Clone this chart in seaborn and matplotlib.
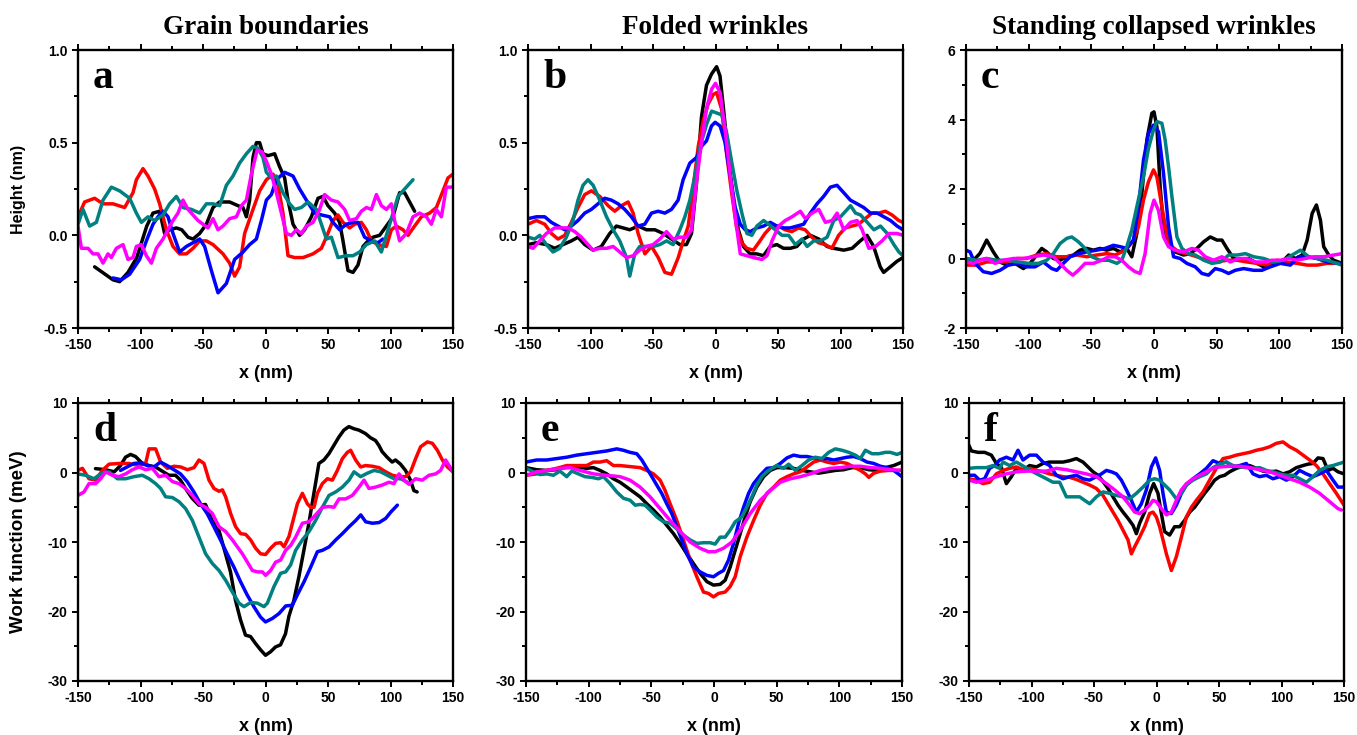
import matplotlib
matplotlib.use("Agg")
import matplotlib.pyplot as plt
import pandas as pd
import seaborn as sns
from matplotlib.ticker import MultipleLocator, FormatStrFormatter

# ---------------- data (x in nm, y values) ----------------
SERIES = ["black", "red", "blue", "teal", "magenta"]
PALETTE = {"black": "#000000", "red": "#FF0000", "blue": "#0000FF",
           "teal": "#008080", "magenta": "#FF00FF"}

TITLES = ["Grain boundaries", "Folded wrinkles", "Standing collapsed wrinkles"]
LETTERS = ["a", "b", "c", "d", "e", "f"]

# Panel a : height (nm), grain boundaries
A_BLACK = [(-136.7,-0.17),(-122,-0.24),(-116.7,-0.25),(-110,-0.20),(-103,-0.12),(-95,0.05),(-90,0.12),(-84.7,0.13),(-80.7,0.01),(-76.7,0.03),(-71.3,0.04),(-67,0.03),(-62,-0.01),(-58,-0.02),(-52.7,0.01),(-47.3,0.06),(-42,0.15),(-36.7,0.18),(-28.7,0.18),(-22,0.16),(-18,0.15),(-15.3,0.10),(-12.7,0.19),(-10,0.42),(-7.3,0.50),(-4.7,0.50),(-2,0.44),(2,0.43),(7.3,0.44),(11.3,0.37),(15.3,0.31),(18,0.19),(22,0.06),(27.3,0.00),(31.3,0.03),(36.7,0.10),(42,0.20),(46,0.21),(50,0.16),(55.3,0.12),(59.3,0.07),(62,-0.03),(66,-0.19),(70,-0.20),(74,-0.16),(78,-0.06),(82,-0.03),(86,-0.01),(91.3,0.00),(96.7,0.05),(102,0.10),(107.3,0.23),(111.3,0.23),(115.3,0.18),(119.3,0.13)]
A_RED = [(-150,0.10),(-144.7,0.18),(-136.7,0.20),(-130,0.17),(-122,0.17),(-112.7,0.15),(-106,0.23),(-103.3,0.30),(-98,0.36),(-94,0.32),(-88.7,0.25),(-84.7,0.17),(-79.3,0.03),(-74,-0.06),(-68.7,-0.10),(-63.3,-0.10),(-58,-0.07),(-52.7,-0.03),(-47.3,-0.03),(-42,-0.05),(-34,-0.10),(-28.7,-0.15),(-24.7,-0.22),(-20.7,-0.17),(-16.7,0.01),(-10,0.14),(-4.7,0.24),(0.7,0.30),(6,0.33),(10,0.27),(14,0.12),(18,-0.11),(23.3,-0.12),(30,-0.12),(38,-0.10),(44.7,-0.07),(48.7,-0.01),(54,0.08),(58,0.11),(62,0.07),(67.3,0.04),(71.3,0.06),(76.7,0.07),(80.7,0.03),(84.7,-0.03),(90,-0.05),(96.7,-0.06),(100.7,0.03),(104.7,0.05),(110,0.03),(114,0.00),(119.3,0.05),(124.7,0.10),(131.3,0.12),(136.7,0.15),(142,0.24),(146,0.31),(150,0.33)]
A_BLUE = [(-122,-0.23),(-115.3,-0.24),(-108.7,-0.21),(-100.7,-0.13),(-95.3,-0.03),(-90,0.06),(-86,0.10),(-82,0.13),(-78,0.10),(-74,0.01),(-68.7,-0.09),(-63.3,-0.06),(-58,-0.04),(-52.7,-0.02),(-48.7,-0.06),(-43.3,-0.19),(-38,-0.31),(-31.3,-0.26),(-24.7,-0.13),(-18,-0.09),(-12.7,-0.05),(-7.3,-0.02),(-3.3,0.08),(0.7,0.19),(4.7,0.22),(8.7,0.30),(15.3,0.34),(22,0.32),(27.3,0.25),(32.7,0.19),(39.3,0.12),(44.7,0.11),(51.3,0.10),(54,0.07),(59.3,0.03),(64.7,0.06),(70,0.07),(74,0.07),(79.3,-0.01),(84.7,-0.03),(90,-0.04),(94,-0.02)]
A_TEAL = [(-150,0.06),(-146,0.14),(-140.7,0.05),(-135.3,0.07),(-130,0.19),(-123.3,0.26),(-116.7,0.24),(-108.7,0.20),(-103.3,0.12),(-99.3,0.07),(-94,0.10),(-88.7,0.08),(-82,0.11),(-76.7,0.17),(-71.3,0.21),(-66,0.15),(-59.3,0.14),(-52.7,0.12),(-47.3,0.17),(-42,0.17),(-36.7,0.16),(-31.3,0.27),(-26,0.32),(-20.7,0.39),(-15.3,0.44),(-10,0.48),(-6,0.47),(-2,0.42),(0.7,0.34),(4.7,0.31),(8.7,0.32),(14,0.23),(19.3,0.17),(23.3,0.14),(28.7,0.15),(34,0.18),(40.7,0.14),(44.7,0.06),(48.7,-0.02),(52.7,-0.01),(58,-0.12),(64.7,-0.11),(70,-0.11),(75.3,-0.09),(80.7,-0.05),(87.3,-0.03),(92.7,-0.09),(96.7,0.00),(100.7,0.09),(106,0.21),(111.3,0.25),(118,0.30)]
A_MAGENTA = [(-150,0.05),(-147.3,-0.07),(-142,-0.07),(-138,-0.10),(-134,-0.10),(-130,-0.15),(-126,-0.10),(-123.3,-0.12),(-119.3,-0.07),(-114,-0.05),(-110,-0.13),(-106,-0.12),(-103.3,-0.06),(-99.3,-0.05),(-95.3,-0.11),(-91.3,-0.15),(-87.3,-0.07),(-82,-0.02),(-78,0.03),(-74,0.08),(-70,0.12),(-66,0.19),(-62,0.14),(-58,0.11),(-54,0.08),(-50,0.06),(-46,0.04),(-42,0.09),(-38,0.03),(-34,0.05),(-28.7,0.09),(-23.3,0.10),(-19.3,0.16),(-15.3,0.19),(-11.3,0.33),(-6.7,0.46),(-2.7,0.45),(0.7,0.40),(4.7,0.33),(8.7,0.23),(12.7,0.12),(16.7,0.01),(20.7,0.00),(24.7,0.03),(28.7,0.01),(32.7,0.05),(38,0.07),(43.3,0.14),(47.3,0.22),(52.7,0.19),(58,0.18),(63.3,0.14),(67.3,0.08),(72.7,0.09),(76.7,0.13),(80.7,0.15),(84.7,0.14),(88.7,0.22),(92.7,0.16),(96.7,0.14),(100.7,0.17),(103.3,0.08),(107.3,-0.03),(112.7,0.01),(118,0.10),(123.3,0.12),(128.7,0.10),(132.7,0.06),(136.7,0.14),(140.7,0.10),(144.7,0.26),(150,0.26)]

# Panel b : height (nm), folded wrinkles
B_BLACK = [(-150,-0.05),(-143.3,-0.04),(-135.3,-0.05),(-128.6,-0.07),(-122,-0.05),(-115.3,-0.03),(-110,-0.01),(-104.6,-0.05),(-97.9,-0.08),(-91.3,-0.06),(-84.6,0.01),(-79.3,0.05),(-73.9,0.04),(-68.6,0.03),(-61.9,0.05),(-55.2,0.03),(-48.5,0.03),(-41.9,0.01),(-35.2,-0.02),(-28.5,-0.05),(-23.2,-0.05),(-19.2,0.01),(-15.2,0.28),(-11.2,0.64),(-7.2,0.81),(-3.2,0.87),(0.9,0.91),(3.6,0.86),(6.3,0.69),(10.3,0.42),(14.3,0.19),(18.3,0.03),(22.3,-0.06),(27.7,-0.10),(33,-0.10),(38.4,-0.11),(43.7,-0.06),(49.1,-0.05),(54.4,-0.07),(59.8,-0.07),(65.1,-0.06),(70.5,-0.02),(75.9,0.00),(82.6,-0.02),(89.2,-0.06),(94.6,-0.07),(102.6,-0.08),(109.3,-0.07),(115.8,-0.03),(121.2,0.00),(126.5,-0.06),(131.8,-0.17),(134.5,-0.20),(139.9,-0.17),(145.2,-0.14),(150,-0.12)]
B_RED = [(-150,0.06),(-143.3,0.08),(-136.6,0.06),(-131.3,0.01),(-126,-0.02),(-120.6,0.00),(-115.3,0.07),(-110,0.15),(-104.6,0.22),(-99.3,0.24),(-92.6,0.21),(-85.9,0.16),(-80.6,0.13),(-75.2,0.16),(-69.9,0.18),(-65.9,0.12),(-61.9,0.01),(-56.5,-0.10),(-51.2,-0.06),(-45.8,-0.12),(-40.5,-0.20),(-35.2,-0.21),(-29.8,-0.12),(-25.8,-0.03),(-21.8,0.05),(-17.8,0.26),(-13.8,0.48),(-9.8,0.62),(-5.8,0.71),(-1.8,0.76),(0.9,0.77),(4.9,0.68),(8.9,0.44),(12.9,0.23),(16.9,0.04),(21,-0.04),(25,-0.07),(30.3,-0.08),(35.6,-0.03),(39.6,0.01),(45,0.05),(50.3,0.05),(55.7,0.03),(61,0.02),(66.4,0.04),(71.7,0.03),(77.1,-0.01),(82.4,-0.04),(87.8,-0.05),(93.1,-0.07),(98.5,0.00),(103.8,0.04),(109.2,0.05),(114.5,0.06),(119.8,0.09),(125.2,0.12),(130.5,0.12),(135.9,0.13),(141.2,0.11),(146.6,0.08),(150,0.07)]
B_BLUE = [(-150,0.09),(-143.3,0.10),(-136.6,0.10),(-131.3,0.07),(-126,0.05),(-120.6,0.03),(-115.3,0.05),(-110,0.08),(-104.6,0.12),(-99.3,0.14),(-94,0.17),(-88.6,0.20),(-83.3,0.19),(-77.9,0.17),(-72.6,0.14),(-67.3,0.10),(-61.9,0.05),(-56.6,0.06),(-51.2,0.12),(-45.9,0.13),(-40.5,0.12),(-35.2,0.14),(-29.9,0.19),(-25.9,0.30),(-20.5,0.39),(-15.2,0.42),(-11.2,0.48),(-7.2,0.51),(-3.2,0.59),(-0.3,0.61),(3.7,0.59),(7.7,0.50),(11.8,0.32),(15.8,0.15),(19.8,0.06),(23.8,0.03),(27.8,0.02),(33.1,0.04),(38.5,0.05),(43.8,0.07),(49.1,0.05),(54.5,0.04),(59.8,0.04),(65.2,0.05),(70.5,0.06),(75.9,0.12),(81.2,0.17),(86.5,0.21),(91.9,0.26),(97.2,0.27),(102.6,0.23),(107.9,0.19),(113.3,0.17),(118.6,0.15),(124,0.12),(129.3,0.12),(134.7,0.10),(140,0.08),(145.3,0.05),(150,0.03)]
B_TEAL = [(-150,-0.01),(-144.6,-0.02),(-140.6,0.00),(-135.3,-0.05),(-130,-0.09),(-124.6,-0.07),(-119.3,-0.01),(-114,0.08),(-110,0.19),(-106,0.27),(-102,0.30),(-97.9,0.27),(-92.6,0.19),(-87.2,0.10),(-81.9,0.03),(-76.6,-0.03),(-71.2,-0.12),(-68.6,-0.22),(-64.6,-0.10),(-60.6,-0.06),(-55.2,-0.06),(-49.9,-0.06),(-44.5,-0.05),(-39.2,-0.03),(-33.9,-0.05),(-28.5,0.03),(-24.5,0.10),(-20.5,0.19),(-16.5,0.32),(-12.3,0.48),(-7.1,0.60),(-3.1,0.67),(1,0.66),(5,0.65),(9,0.55),(13.1,0.39),(17.1,0.24),(21.1,0.12),(25.1,0.01),(29.1,0.00),(33.1,0.05),(38.5,0.08),(42.5,0.06),(47.8,0.03),(53.2,0.00),(58.5,0.00),(63.9,-0.05),(69.2,-0.02),(73.3,-0.06),(78.6,-0.03),(84,-0.03),(89.3,-0.01),(94.6,0.08),(100,0.10),(105.4,0.14),(108,0.16),(112,0.12),(116,0.11),(121.4,0.07),(126.7,0.03),(132,0.05),(137.4,0.01),(142.7,-0.05),(146.7,-0.09),(150,-0.11)]
B_MAGENTA = [(-150,-0.06),(-146,-0.07),(-140.6,-0.03),(-135.3,0.01),(-128.6,0.04),(-123.3,0.04),(-118,0.04),(-112.6,0.02),(-107.3,-0.01),(-102,-0.05),(-98,-0.08),(-92.6,-0.07),(-87.2,-0.07),(-81.9,-0.06),(-76.6,-0.09),(-71.2,-0.12),(-65.9,-0.11),(-60.6,-0.08),(-55.2,-0.06),(-49.9,-0.05),(-44.5,-0.02),(-39.2,0.02),(-33.9,-0.02),(-28.5,-0.01),(-23.2,-0.01),(-19.2,0.03),(-15,0.30),(-11,0.51),(-7,0.69),(-3,0.79),(0,0.82),(3.7,0.77),(7.7,0.57),(11.8,0.32),(15.8,0.10),(19.8,-0.10),(25.1,-0.11),(30.5,-0.12),(37.1,-0.13),(41.2,-0.11),(45.2,-0.03),(50.5,0.05),(55.8,0.08),(61.2,0.10),(67.9,0.13),(71.9,0.09),(77.2,0.12),(82.6,0.14),(87.9,0.07),(93.3,0.08),(97.3,0.12),(102.6,0.03),(108,0.07),(113.3,0.08),(117.3,0.03),(122.7,-0.07),(128,-0.06),(133.3,-0.03),(138.7,0.01),(145.3,0.01),(150,0.00)]

# Panel c : height (nm), standing collapsed wrinkles
C_BLACK = [(-150,0.0),(-144,-0.05),(-138.8,0.15),(-133.5,0.53),(-128.2,0.19),(-122.9,-0.10),(-117.5,-0.19),(-110.9,-0.14),(-104.2,-0.29),(-98.9,-0.14),(-93.6,0.10),(-89.6,0.29),(-85.6,0.19),(-80.3,0.00),(-75,-0.05),(-69.6,0.05),(-64.3,0.10),(-59,0.24),(-53.6,0.29),(-48.3,0.24),(-43,0.29),(-37.7,0.24),(-32.4,0.29),(-27,0.19),(-21.7,0.29),(-17.7,0.05),(-13.7,0.72),(-9.7,1.87),(-5.7,3.41),(-1.7,4.18),(0,4.22),(2.3,3.79),(4.9,2.07),(7.6,0.91),(11.6,0.43),(16.9,0.19),(23.6,0.10),(28.9,0.14),(34.2,0.29),(39.6,0.48),(44.9,0.62),(50.2,0.53),(54.2,0.53),(58.2,0.29),(63.5,0.00),(68.9,-0.05),(75.5,0.00),(82.2,-0.14),(87.5,-0.24),(92.8,-0.19),(98.2,-0.14),(103.5,-0.05),(107.5,0.10),(112.8,0.00),(118.2,0.10),(122.2,0.53),(126.2,1.30),(129.6,1.54),(132.8,1.10),(135.4,0.34),(139.4,0.10),(143.4,-0.05),(150,-0.14)]
C_RED = [(-150,-0.19),(-141.5,-0.19),(-133.5,-0.10),(-125.5,-0.10),(-117.5,-0.10),(-109.5,0.00),(-101.6,0.00),(-93.6,0.10),(-85.6,0.14),(-77.6,0.05),(-69.6,0.05),(-61.6,0.10),(-53.6,0.05),(-45.7,0.10),(-37.7,0.14),(-31,0.10),(-25.7,0.19),(-20.4,0.34),(-16.4,0.53),(-12.4,0.91),(-8.4,1.68),(-4.4,2.21),(-0.4,2.55),(2.3,2.35),(6.3,1.49),(10.3,0.67),(14.3,0.34),(19.6,0.19),(26.2,0.14),(34.2,0.05),(42.2,-0.05),(50.2,-0.10),(58.2,-0.05),(66.2,-0.05),(74.2,-0.10),(82.2,-0.14),(90.1,-0.19),(98.1,-0.05),(106.1,-0.10),(114.1,-0.14),(122.1,-0.19),(130.1,-0.19),(138.1,-0.14),(150,-0.14)]
C_BLUE = [(-150,0.24),(-146.8,0.19),(-142.8,-0.14),(-136.2,-0.38),(-129.5,-0.43),(-122.9,-0.34),(-116.2,-0.19),(-108.2,-0.14),(-101.6,-0.24),(-94.9,-0.24),(-88.3,-0.10),(-81.6,-0.29),(-77.6,-0.34),(-72.3,-0.14),(-66.9,0.05),(-60.3,0.14),(-53.6,0.19),(-45.7,0.24),(-39,0.29),(-32.4,0.38),(-27,0.34),(-21.7,0.29),(-16.4,0.53),(-12.4,1.49),(-8.4,2.83),(-4.4,3.60),(-0.4,3.84),(3.6,3.65),(7.6,2.45),(11.6,0.91),(15.6,0.05),(20.9,0.00),(26.2,-0.14),(32.9,-0.24),(38.2,-0.43),(43.5,-0.48),(48.9,-0.29),(54.2,-0.34),(59.5,-0.43),(64.8,-0.34),(71.5,-0.29),(79.5,-0.34),(86.1,-0.34),(92.8,-0.24),(100.8,-0.14),(108.8,-0.19),(115.5,0.05),(122.1,0.05),(130.1,0.00),(138.1,-0.10),(150,-0.14)]
C_TEAL = [(-150,0.00),(-141.5,-0.05),(-133.5,0.00),(-125.5,-0.05),(-117.5,-0.05),(-108.2,-0.10),(-100.2,-0.14),(-92.2,-0.14),(-85.6,-0.05),(-80.3,0.14),(-75,0.43),(-69.6,0.58),(-65.6,0.62),(-60.3,0.48),(-55,0.29),(-49.6,0.05),(-43,-0.05),(-36.3,-0.05),(-29.6,-0.14),(-25.7,-0.05),(-21.7,0.34),(-17.7,0.82),(-13.7,1.49),(-8.4,2.35),(-4.4,3.17),(-0.4,3.70),(2.3,3.94),(6.3,3.89),(8.9,3.41),(11.6,2.64),(14.3,1.78),(18.3,0.62),(22.3,0.29),(27.6,0.14),(33,0.10),(39.6,-0.05),(46.3,-0.14),(53,-0.10),(59.6,0.10),(66.3,0.10),(72.9,0.14),(79.6,0.05),(87.6,0.00),(95.5,-0.10),(103.5,-0.05),(110.2,0.10),(116.8,0.24),(123.5,0.05),(130.1,0.00),(138.1,-0.05),(150,-0.19)]
C_MAGENTA = [(-150,-0.10),(-144.1,-0.14),(-138.8,-0.05),(-133.5,0.00),(-126.8,-0.14),(-120.2,-0.05),(-112.2,0.00),(-104.2,0.00),(-96.2,0.05),(-88.2,0.10),(-80.3,0.05),(-75,-0.14),(-69.6,-0.34),(-64.8,-0.48),(-60.3,-0.34),(-55,-0.14),(-48.3,-0.14),(-41.7,-0.05),(-36.3,0.05),(-31,0.05),(-25.7,-0.05),(-20.4,-0.24),(-15.1,-0.38),(-11.1,-0.43),(-7.1,0.14),(-3.1,1.30),(0,1.68),(3.5,1.39),(7.6,0.62),(11.6,0.34),(16.9,0.24),(23.6,0.19),(30.2,0.29),(35.5,0.24),(40.9,0.05),(47.5,-0.05),(54.2,0.05),(60.9,-0.10),(67.5,0.00),(74.2,0.00),(80.8,-0.10),(87.5,-0.10),(94.2,-0.05),(100.8,-0.05),(107.5,0.00),(114.1,-0.05),(120.8,0.00),(127.5,0.05),(135.4,0.05),(143.4,0.10),(150,0.14)]

# Panel d : work function (meV), grain boundaries
D_BLACK = [(-136,0.56),(-128,0.4),(-121,0.1),(-116,1.0),(-112,2.2),(-108,2.6),(-104,2.3),(-99,1.4),(-93.3,1.0),(-88,0.8),(-82.7,0.2),(-77.3,-0.4),(-72,-0.4),(-68,-1.1),(-64,-2.3),(-58.7,-3.7),(-53.3,-4.7),(-48,-4.6),(-42.7,-6.9),(-37.3,-8.3),(-32,-11.7),(-28,-14.3),(-24,-18.4),(-20,-21.2),(-16,-23.4),(-12,-23.6),(-8,-24.6),(-4,-25.5),(0,-26.3),(4,-25.8),(8,-25.1),(12,-24.8),(16,-23.2),(18.7,-20.7),(22.7,-18.4),(26.7,-15.0),(30.7,-11.2),(34.7,-7.3),(38.7,-3.0),(42.7,1.3),(46.7,1.8),(50.7,2.7),(54.7,3.9),(58.7,5.1),(62.7,6.1),(66.7,6.6),(70.7,6.3),(74.7,6.1),(80,5.6),(84,5.0),(88,4.6),(90.7,3.9),(93.3,3.0),(97.3,2.2),(101.3,1.5),(104,1.8),(108,1.2),(112,0.3),(116,-1.1),(118.7,-2.6),(121.3,-2.8)]
D_RED = [(-150,0.3),(-146.5,0.6),(-141.2,-0.9),(-135.9,-1.1),(-130.5,0.3),(-125.2,1.2),(-117.2,1.3),(-109.2,1.3),(-101.2,1.0),(-95.9,1.3),(-93.2,3.4),(-87.9,3.4),(-83.9,1.5),(-78.5,0.6),(-73.2,0.9),(-67.9,0.8),(-62.5,0.4),(-57.2,0.7),(-53.2,1.8),(-49.2,1.3),(-45.2,-1.1),(-41.2,-2.3),(-37.2,-2.7),(-34.5,-2.5),(-31.9,-3.5),(-27.9,-5.9),(-23.9,-7.8),(-19.9,-8.8),(-15.9,-8.9),(-11.9,-9.7),(-7.9,-10.9),(-3.9,-11.7),(0.1,-11.8),(4.1,-10.9),(8.1,-10.2),(12.1,-10.1),(14.8,-10.7),(18.8,-9.2),(21.5,-7.3),(25.5,-4.5),(29.5,-3.0),(33.5,-4.5),(36.1,-5.0),(38.8,-5.0),(41.5,-3.0),(45.5,-1.6),(49.5,-0.9),(53.5,-1.1),(57.5,0.3),(61.5,2.0),(65.5,2.9),(68.1,3.2),(72.1,1.8),(76.1,0.8),(80.1,1.0),(85.5,0.9),(90.8,0.7),(96.1,0.1),(101.5,-0.4),(106.8,-0.6),(112.1,-0.6),(116.1,0.1),(120.1,2.0),(124.1,3.7),(129.5,4.4),(133.5,4.2),(137.5,3.2),(141.5,1.8),(145.5,0.8),(150,0.1)]
D_BLUE = [(-116,0.3),(-110.7,0.8),(-105.3,1.3),(-100,1.4),(-94.7,1.0),(-89.3,0.8),(-84,1.5),(-78.7,1.0),(-73.3,0.4),(-68,-0.2),(-62.7,-1.3),(-57.3,-2.8),(-52,-4.5),(-46.7,-5.9),(-41.3,-7.8),(-36,-9.7),(-30.7,-11.7),(-25.3,-13.6),(-20,-15.7),(-14.7,-17.6),(-9.3,-19.3),(-4,-20.8),(0,-21.5),(5.5,-21.0),(10.8,-20.3),(16.2,-19.2),(21.5,-19.1),(25.5,-17.6),(30.9,-15.7),(36.2,-13.6),(41.5,-11.4),(45.5,-11.2),(50.9,-10.7),(56.2,-9.7),(61.5,-8.8),(66.9,-7.8),(72.2,-6.9),(76.2,-6.1),(80.2,-7.1),(85.5,-7.3),(90.9,-7.2),(96.2,-6.6),(100.2,-5.7),(105.5,-4.7)]
D_TEAL = [(-150,-0.2),(-143.9,-0.4),(-137.2,-0.9),(-131.9,-0.2),(-125.2,0.1),(-118.5,-0.9),(-111.9,-0.9),(-105.2,-0.6),(-98.5,-0.4),(-93.2,-0.9),(-87.9,-1.6),(-83.9,-2.3),(-79.9,-3.5),(-74.5,-3.6),(-69.2,-4.2),(-63.9,-5.2),(-58.5,-6.9),(-53.2,-9.3),(-47.9,-11.7),(-42.5,-13.1),(-37.2,-14.1),(-31.9,-15.5),(-26.5,-17.2),(-21.2,-18.8),(-17.2,-19.3),(-11.9,-18.7),(-6.5,-18.8),(-1.2,-19.3),(1.5,-18.8),(6.8,-16.4),(12.1,-14.5),(16.1,-14.3),(20.1,-13.3),(24.1,-11.2),(29.5,-9.7),(34.8,-8.5),(40.1,-6.9),(45.5,-5.0),(50.8,-3.3),(56.1,-2.8),(61.5,-2.1),(66.8,-1.1),(70.8,0.1),(76.1,-0.6),(81.5,-0.1),(86.8,0.3),(92.1,0.1),(97.5,-0.4),(102.8,-0.9),(108.1,-0.9),(113.5,-1.4)]
D_MAGENTA = [(-150,-3.3),(-145.2,-2.8),(-141.2,-1.6),(-135.9,-1.6),(-131.9,-0.9),(-127.9,0.1),(-122.5,-0.4),(-117.2,-0.6),(-111.9,-0.2),(-106.5,0.4),(-101.2,0.8),(-95.9,0.4),(-90.5,0.6),(-85.2,-0.6),(-79.9,-0.4),(-74.5,-1.3),(-69.2,-1.6),(-63.9,-2.3),(-58.5,-3.3),(-53.2,-4.5),(-47.9,-5.0),(-42.5,-5.9),(-37.2,-7.8),(-31.9,-8.5),(-26.5,-9.7),(-22.5,-10.7),(-18.5,-11.7),(-14.5,-12.9),(-10.5,-14.1),(-6.5,-14.3),(-2.5,-14.3),(0.1,-14.8),(4.1,-14.1),(8.1,-12.9),(12.1,-12.6),(16.1,-11.2),(20.1,-10.5),(24.1,-9.3),(29.5,-7.3),(34.8,-7.1),(40.1,-6.1),(45.5,-5.0),(50.8,-4.9),(54.8,-5.0),(58.8,-3.8),(64.1,-3.8),(69.5,-3.3),(74.8,-2.1),(78.8,-1.1),(82.8,-2.3),(88.1,-2.1),(93.5,-1.8),(98.8,-1.4),(102.8,-1.6),(106.8,-0.2),(110.8,-1.1),(114.8,-1.7),(120.1,-0.9),(125.5,-1.1),(130.8,-0.4),(136.1,-0.2),(140.1,0.3),(144.1,1.8),(146.8,1.0),(150,0.1)]

# Panel e : work function (meV), folded wrinkles
E_BLACK = [(-150,0.7),(-141.5,0.4),(-133.5,0.3),(-125.5,0.4),(-117.5,0.8),(-109.5,0.8),(-101.6,0.6),(-96.2,0.7),(-90.9,0.3),(-85.6,-0.2),(-80.3,-0.9),(-75,-1.4),(-69.6,-2.1),(-64.3,-2.8),(-59,-3.5),(-53.6,-4.5),(-48.3,-5.4),(-43,-6.4),(-37.7,-7.6),(-32.3,-8.8),(-27,-10.2),(-21.7,-11.7),(-16.4,-13.1),(-11.1,-14.5),(-5.7,-15.7),(-0.4,-16.2),(4.9,-16.1),(8.9,-15.5),(12.9,-13.6),(16.9,-11.2),(20.9,-8.8),(24.9,-6.4),(28.9,-4.2),(34.2,-2.1),(39.6,-0.6),(44.9,0.3),(50.2,0.7),(56.9,0.7),(63.5,0.6),(70.2,0.3),(76.8,0.1),(83.5,-0.1),(90.1,0.1),(96.8,0.3),(103.5,0.4),(110.1,0.7),(116.8,0.7),(123.5,0.4),(130.1,0.3),(136.8,0.7),(143.4,1.0),(150,1.5)]
E_RED = [(-150,-0.4),(-141.5,-0.2),(-133.5,0.3),(-125.5,0.6),(-117.5,1.0),(-109.5,1.0),(-101.6,1.0),(-96.2,1.5),(-90.9,1.5),(-85.6,1.7),(-80.3,1.0),(-75,1.0),(-69.6,0.9),(-64.3,0.8),(-59,0.7),(-53.6,0.3),(-48.3,-0.2),(-43,-1.1),(-39,-2.6),(-35,-4.5),(-29.7,-6.9),(-24.4,-9.7),(-19,-12.6),(-13.7,-15.0),(-8.4,-17.2),(-4.4,-17.4),(-0.4,-17.9),(3.6,-17.4),(8.9,-17.2),(12.9,-16.4),(16.9,-15.0),(20.9,-12.1),(26.2,-9.3),(31.6,-6.9),(36.9,-4.7),(42.2,-3.0),(47.6,-2.1),(52.9,-1.1),(58.2,-0.6),(63.5,-0.2),(68.9,0.1),(74.2,0.8),(79.5,1.5),(84.9,1.8),(90.2,1.5),(95.5,1.3),(100.8,1.5),(106.2,1.3),(111.5,0.8),(116.8,0.3),(120.8,-0.2),(123.5,-0.7),(127.5,-0.1),(132.8,0.2),(139.4,0.3),(150,0.3)]
E_BLUE = [(-150,1.5),(-141.5,1.8),(-133.5,1.8),(-125.5,2.0),(-117.5,2.2),(-109.5,2.5),(-101.6,2.7),(-93.6,2.9),(-85.6,3.1),(-77.6,3.4),(-72.3,3.2),(-67,2.9),(-61.6,2.7),(-57.6,1.8),(-53.6,0.6),(-49.6,-0.6),(-45.7,-1.8),(-41.7,-3.0),(-37.7,-4.5),(-33.7,-5.9),(-29.7,-7.8),(-25.7,-9.7),(-21.7,-11.7),(-16.4,-13.6),(-11.1,-14.3),(-5.7,-14.8),(-0.4,-15.0),(3.6,-14.5),(7.6,-14.1),(11.6,-12.6),(15.6,-10.2),(19.6,-7.3),(23.6,-5.0),(27.6,-3.0),(31.6,-1.6),(36.9,-0.4),(42.2,0.6),(47.6,0.7),(52.9,1.3),(58.2,2.1),(63.5,2.5),(68.9,2.3),(74.2,2.3),(79.5,2.1),(84.9,2.0),(90.2,2.0),(95.5,1.8),(100.8,2.0),(106.2,2.2),(111.5,2.3),(116.8,2.0),(122.1,1.5),(127.5,1.3),(132.8,0.9),(138.1,0.7),(143.4,0.3),(150,-0.6)]
E_TEAL = [(-150,0.6),(-144.1,0.1),(-138.8,-0.3),(-133.5,-0.2),(-128.2,-0.4),(-122.9,0.2),(-117.5,-0.6),(-113.5,0.2),(-108.2,-0.2),(-102.9,-0.6),(-97.6,-0.7),(-92.2,-0.9),(-88.2,-0.6),(-82.9,-1.6),(-77.6,-2.8),(-72.3,-3.7),(-66.9,-4.0),(-62.9,-4.7),(-58.9,-4.6),(-55,-4.7),(-51,-5.4),(-45.6,-6.4),(-40.3,-7.1),(-35,-7.3),(-29.7,-8.1),(-24.4,-9.0),(-19,-9.7),(-13.7,-10.2),(-8.4,-10.1),(-3.1,-10.1),(0.9,-10.3),(4.9,-9.3),(8.9,-9.3),(12.9,-8.3),(16.9,-7.1),(22.2,-6.4),(26.2,-5.0),(30.2,-3.5),(34.2,-1.8),(38.2,-0.6),(42.2,0.1),(46.2,0.6),(50.2,1.0),(55.6,0.6),(59.5,1.2),(64.8,0.3),(70.2,1.0),(75.5,1.8),(80.8,2.2),(86.1,2.0),(91.5,2.9),(96.8,3.4),(102.1,3.2),(107.5,2.9),(112.8,2.5),(116.8,2.0),(120.8,3.2),(126.1,2.7),(131.4,2.7),(136.8,2.9),(140.7,2.9),(146.1,2.6),(150,2.9)]
E_MAGENTA = [(-150,-0.4),(-141.5,0.1),(-133.5,0.3),(-122.9,0.6),(-114.9,0.7),(-106.9,0.3),(-96.2,-0.2),(-85.6,-0.4),(-75,-0.6),(-67,-1.1),(-59,-2.1),(-51,-3.5),(-43,-5.2),(-35,-6.9),(-27,-8.5),(-19,-10.0),(-11.1,-10.9),(-4.4,-11.4),(0.9,-11.4),(7.6,-10.9),(14.3,-10.0),(20.9,-8.3),(28.9,-5.9),(36.9,-4.0),(44.9,-2.6),(52.9,-1.4),(60.9,-0.9),(68.9,-0.6),(76.8,-0.2),(84.8,0.3),(92.8,0.6),(100.8,0.7),(108.8,0.9),(116.8,0.9),(124.8,0.7),(132.8,0.6),(140.7,0.4),(150,0.3)]

# Panel f : work function (meV), standing collapsed wrinkles
F_BLACK = [(-150,3.9),(-148.1,3.1),(-142.8,2.9),(-137.5,2.9),(-132.1,2.5),(-128.1,1.3),(-124.1,0.7),(-120.1,-1.6),(-116.1,-0.6),(-112.1,0.6),(-106.8,0.3),(-101.5,1.0),(-96.1,0.8),(-90.8,1.3),(-85.5,1.5),(-80.1,1.5),(-74.8,1.5),(-69.5,1.7),(-64.1,2.0),(-58.8,1.5),(-54.8,0.8),(-50.8,0.1),(-46.8,-0.4),(-42.8,-1.3),(-38.8,-2.3),(-34.8,-3.5),(-30.8,-4.7),(-26.8,-5.7),(-22.8,-6.6),(-18.8,-7.6),(-16.1,-8.8),(-13.5,-7.3),(-9.5,-5.7),(-5.5,-3.0),(-2.3,-1.6),(1.2,-3.0),(3.9,-5.9),(6.5,-8.5),(10.5,-9.0),(14.5,-7.8),(18.5,-7.8),(22.5,-6.9),(26.5,-5.7),(30.5,-5.0),(34.5,-4.0),(38.5,-3.0),(42.5,-2.1),(46.5,-1.1),(50.5,-0.6),(54.5,-0.4),(58.5,0.1),(63.9,0.6),(69.2,0.9),(74.5,1.0),(79.9,0.6),(85.2,0.2),(90.5,0.1),(95.9,0.2),(101.2,-0.2),(106.5,0.1),(111.9,0.7),(117.2,1.0),(121.2,1.2),(125.2,1.3),(129.2,2.1),(133.2,2.0),(137.2,0.3),(141.2,0.6),(145.2,0.1),(150,-0.2)]
F_RED = [(-150,-0.9),(-144.1,-1.1),(-138.8,-1.6),(-133.5,-1.4),(-128.1,-0.2),(-122.8,0.3),(-117.5,0.6),(-112.1,0.8),(-106.8,0.4),(-101.5,0.6),(-96.1,0.3),(-90.8,0.1),(-85.5,-0.2),(-80.1,-0.4),(-74.8,-0.6),(-69.5,-0.7),(-64.1,-1.0),(-58.8,-1.4),(-53.5,-1.8),(-48.1,-2.3),(-42.8,-3.3),(-38.8,-4.5),(-34.8,-5.7),(-30.8,-6.9),(-26.8,-8.3),(-22.8,-9.7),(-20.1,-11.7),(-17.5,-10.7),(-13.5,-9.3),(-9.5,-7.8),(-5.5,-5.9),(-2.8,-5.7),(-0.1,-6.4),(2.5,-7.8),(5.2,-9.7),(7.9,-11.7),(11.9,-14.1),(15.9,-12.1),(19.9,-9.3),(23.9,-6.4),(27.9,-5.0),(31.9,-4.0),(37.2,-2.8),(42.5,-1.1),(47.9,0.6),(53.2,2.0),(58.5,2.2),(63.9,2.5),(69.2,2.7),(74.5,2.9),(79.9,3.2),(85.2,3.4),(90.5,3.7),(95.9,4.2),(101.2,4.4),(106.5,3.7),(111.9,3.2),(117.2,2.5),(122.5,1.8),(127.9,1.0),(133.2,-0.2),(138.5,-1.6),(143.9,-3.0),(150,-4.7)]
F_BLUE = [(-150,-0.4),(-145.5,-0.4),(-141.5,-1.1),(-137.5,-0.9),(-133.5,0.6),(-129.5,1.0),(-125.5,1.8),(-120.1,2.2),(-114.8,1.8),(-110.8,3.2),(-106.8,1.8),(-101.5,2.5),(-96.1,2.5),(-90.8,1.5),(-85.5,1.0),(-80.1,-0.4),(-74.8,-0.9),(-69.5,-0.6),(-64.1,-0.4),(-58.8,-0.9),(-53.5,-1.1),(-48.1,-0.6),(-44.1,-0.2),(-40.1,0.3),(-36.1,0.1),(-32.1,-0.2),(-28.1,-1.1),(-24.1,-2.5),(-20.1,-4.0),(-16.1,-5.7),(-12.1,-4.5),(-8.1,-2.5),(-4.1,0.8),(-0.7,2.1),(2.5,0.3),(5.2,-3.0),(7.9,-5.7),(11.9,-5.9),(15.9,-4.7),(19.9,-3.0),(23.9,-1.8),(29.2,-0.9),(34.5,-0.2),(39.9,0.6),(45.2,1.7),(50.5,1.3),(55.9,1.5),(61.2,0.8),(66.5,1.0),(71.9,1.3),(77.2,-0.2),(82.5,-0.6),(87.9,-0.4),(93.2,-0.9),(98.5,-0.6),(103.9,-1.1),(109.2,-0.6),(114.5,0.3),(119.9,-0.2),(125.2,-0.6),(130.5,-0.2),(135.9,0.3),(141.2,-1.1),(145.2,-2.1),(150,-2.1)]
F_TEAL = [(-150,0.6),(-144.1,0.7),(-136.1,0.7),(-130.8,1.0),(-125.5,0.6),(-122.8,1.5),(-117.5,1.0),(-112.1,1.5),(-105.5,0.8),(-98.8,0.1),(-93.5,-0.4),(-88.1,-0.9),(-82.8,-1.4),(-77.5,-1.4),(-72.1,-3.5),(-66.8,-3.5),(-61.5,-3.5),(-57.5,-4.0),(-53.5,-4.5),(-48.1,-3.5),(-42.8,-2.8),(-37.5,-3.0),(-32.1,-3.3),(-26.8,-3.5),(-21.5,-3.8),(-16.1,-3.0),(-10.8,-2.1),(-5.5,-1.1),(-1.5,-0.9),(2.5,-1.1),(6.5,-1.8),(10.5,-2.5),(15.9,-3.8),(19.9,-3.0),(23.9,-1.8),(29.2,-1.1),(34.5,-0.6),(39.9,-0.2),(45.2,0.7),(50.5,1.2),(55.9,1.5),(61.2,1.0),(66.5,0.8),(71.9,0.7),(77.2,0.6),(82.5,0.7),(87.9,0.3),(93.2,0.1),(98.5,-0.2),(103.9,-0.4),(109.2,-0.4),(114.5,-0.9),(119.9,-1.4),(125.2,-0.6),(130.5,0.3),(135.9,0.8),(141.2,1.0),(150,1.5)]
F_MAGENTA = [(-150,-1.1),(-144.1,-1.4),(-136.1,-1.1),(-128.1,-0.6),(-120.1,-0.2),(-112.1,0.1),(-104.1,0.2),(-96.1,0.2),(-88.1,0.2),(-80.1,0.6),(-72.1,0.4),(-64.1,0.1),(-56.1,-0.2),(-48.1,-0.6),(-40.1,-1.6),(-33.5,-2.5),(-26.8,-3.5),(-21.5,-4.7),(-17.5,-5.7),(-13.5,-5.9),(-9.5,-5.4),(-5.5,-4.7),(-2.8,-4.0),(-0.1,-4.2),(3.9,-5.2),(7.9,-6.1),(11.9,-5.7),(15.9,-4.0),(19.9,-2.5),(23.9,-1.6),(29.2,-0.9),(34.5,-0.4),(39.9,0.1),(45.2,0.6),(50.5,0.8),(58.5,0.9),(66.5,0.9),(74.5,0.7),(82.5,0.4),(90.5,0.1),(98.5,-0.4),(106.5,-0.9),(114.5,-1.4),(122.5,-2.1),(130.5,-3.0),(138.5,-4.2),(145.2,-5.2),(147.9,-5.4)]

PANELS = [
    [A_BLACK, A_RED, A_BLUE, A_TEAL, A_MAGENTA],
    [B_BLACK, B_RED, B_BLUE, B_TEAL, B_MAGENTA],
    [C_BLACK, C_RED, C_BLUE, C_TEAL, C_MAGENTA],
    [D_BLACK, D_RED, D_BLUE, D_TEAL, D_MAGENTA],
    [E_BLACK, E_RED, E_BLUE, E_TEAL, E_MAGENTA],
    [F_BLACK, F_RED, F_BLUE, F_TEAL, F_MAGENTA],
]

# ---------------- style ----------------
sns.set_theme(style="ticks")
plt.rcParams["font.family"] = ["Liberation Sans", "DejaVu Sans"]
plt.rcParams["font.weight"] = "bold"
plt.rcParams["axes.unicode_minus"] = False
for key in ["text.color", "axes.labelcolor", "xtick.color", "ytick.color", "axes.edgecolor"]:
    plt.rcParams[key] = "black"

W, H = 1357, 735
fig = plt.figure(figsize=(W / 100, H / 100), dpi=100)

# axes boxes in pixels: (left, top, right, bottom)
BOXES = [(78, 50, 453, 328), (528, 50, 903, 328), (966, 50, 1342, 328),
         (78, 403, 453, 681), (526, 403, 902, 681), (969, 403, 1344, 681)]

YLIMS = [(-0.5, 1.0), (-0.5, 1.0), (-2, 6), (-30, 10), (-30, 10), (-30, 10)]
YMAJ = [0.5, 0.5, 2, 10, 10, 10]
YMIN = [0.25, 0.25, 1, 5, 5, 5]
YFMT = ["%.1f", "%.1f", "%d", "%d", "%d", "%d"]

serif = ["Liberation Serif", "DejaVu Serif"]
for i, (l, t, r, b) in enumerate(BOXES):
    ax = fig.add_axes([l / W, 1 - b / H, (r - l) / W, (b - t) / H])
    rows = []
    for name, pts in zip(SERIES, PANELS[i]):
        for k, (x, y) in enumerate(pts):
            rows.append({"x": x, "y": y, "series": name, "order": k})
    df = pd.DataFrame(rows)
    for name in SERIES:
        sub = df[df["series"] == name]
        sns.lineplot(data=sub, x="x", y="y", color=PALETTE[name], lw=2.5,
                     sort=False, estimator=None, ax=ax, legend=False)
    ax.set_xlim(-150, 150)
    ax.set_ylim(*YLIMS[i])
    ax.xaxis.set_major_locator(MultipleLocator(50))
    ax.xaxis.set_minor_locator(MultipleLocator(25))
    ax.yaxis.set_major_locator(MultipleLocator(YMAJ[i]))
    ax.yaxis.set_minor_locator(MultipleLocator(YMIN[i]))
    ax.yaxis.set_major_formatter(FormatStrFormatter(YFMT[i]))
    ax.tick_params(which="both", direction="out", top=True, right=False,
                   width=1.4, labelsize=10, pad=3, colors="black")
    ax.tick_params(which="major", length=4.5)
    ax.tick_params(which="minor", length=3)
    for lab in ax.get_xticklabels() + ax.get_yticklabels():
        lab.set_fontweight("bold")
    for sp in ax.spines.values():
        sp.set_linewidth(1.7)
        sp.set_color("black")
        sp.set_visible(True)
    ax.set_xlabel("x (nm)", fontsize=13, fontweight="bold", labelpad=9)
    ax.set_ylabel("")
    ax.text(0.04, 0.865, LETTERS[i], transform=ax.transAxes, fontsize=30,
            fontweight="bold", family=serif, va="baseline", ha="left",
            color="black")

for j, title in enumerate(TITLES):
    l, t, r, b = BOXES[j]
    fig.text(((l + r) / 2) / W, 1 - 34 / H, title, ha="center", va="baseline",
             fontsize=19.5, fontweight="bold", family=serif, color="black")

fig.text(19 / W, 1 - ((50 + 328) / 2) / H, "Height (nm)", rotation=90,
         ha="center", va="center", fontsize=11.5, fontweight="bold")
fig.text(19 / W, 1 - ((403 + 681) / 2) / H, "Work function (meV)", rotation=90,
         ha="center", va="center", fontsize=13.5, fontweight="bold")

fig.savefig("out.png", dpi=100, facecolor="white")
